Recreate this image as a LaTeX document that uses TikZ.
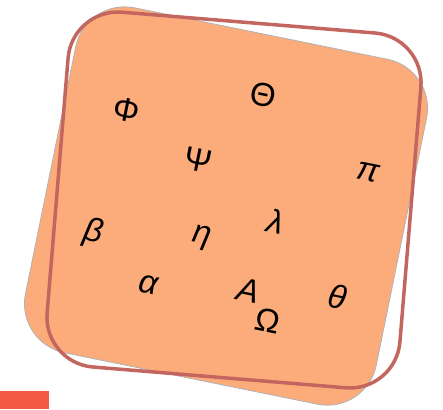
\documentclass[tikz,border=0pt]{standalone}
\usepackage{fontspec}
\setmainfont{Liberation Sans}
\usepackage{xcolor}
\usepackage{tikz}
\definecolor{cardorange}{RGB}{252,172,122}
\definecolor{framered}{RGB}{196,102,96}
\definecolor{tabred}{RGB}{242,90,70}
\tikzset{
  cardfill/.style={
    draw=black!30, fill=cardorange, line width=0.8pt,
    rounded corners=50pt
  },
  cardframe/.style={draw=framered, line width=3.5pt, rounded corners=50pt},
  glyph/.style={font=\fontsize{33}{38}\selectfont, rotate=-11.5, inner sep=0pt},
  glyphit/.style={glyph, font=\fontsize{33}{38}\selectfont\itshape},
}

\begin{document}
\begin{tikzpicture}[x=1pt, y=-1pt]
  \useasboundingbox (0,0) rectangle (443,409);
  % tilted card
  \begin{scope}[shift={(226,206)}, rotate=-11.5]
    \draw[cardfill] (-179,-176) rectangle (179,176);
  \end{scope}
  % symbols
  \node (phi)    [glyph]   at (127,110) {Φ};
  \node (theta)  [glyph]   at (263,95)  {Θ};
  \node (psi)    [glyph]   at (198,160) {Ψ};
  \node (pi)     [glyphit] at (368,172) {π};
  \node (beta)   [glyphit] at (93,233)  {β};
  \node (eta)    [glyphit] at (202,238) {η};
  \node (lambda) [glyphit] at (276,221) {λ};
  \node (alpha)  [glyphit] at (148,285) {α};
  \node (capa)   [glyphit] at (249,291) {A};
  \node (omega)  [glyph]   at (268,321) {Ω};
  \node (vtheta) [glyphit] at (338,297) {θ};
  % straight frame
  \begin{scope}[shift={(234,200)}, rotate=-4.7]
    \draw[cardframe] (-177,-178) rectangle (177,178);
  \end{scope}
  \fill[tabred] (0,391) rectangle (49,409);
\end{tikzpicture}
\end{document}
